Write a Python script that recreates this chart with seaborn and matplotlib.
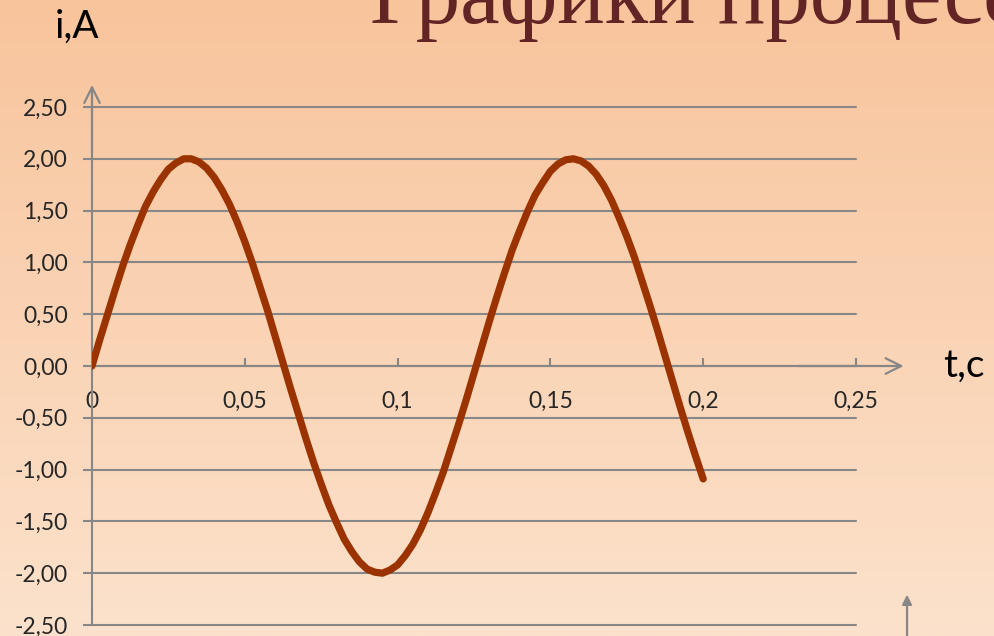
import numpy as np
import matplotlib
matplotlib.use("Agg")
import matplotlib.pyplot as plt
import seaborn as sns

# Values (t in s, i in A)
t_values = [0.0000, 0.0025, 0.0050, 0.0075, 0.0100, 0.0125, 0.0150, 0.0175,
            0.0200, 0.0225, 0.0250, 0.0275, 0.0300, 0.0325, 0.0350, 0.0375,
            0.0400, 0.0425, 0.0450, 0.0475, 0.0500, 0.0525, 0.0550, 0.0575,
            0.0600, 0.0625, 0.0650, 0.0675, 0.0700, 0.0725, 0.0750, 0.0775,
            0.0800, 0.0825, 0.0850, 0.0875, 0.0900, 0.0925, 0.0950, 0.0975,
            0.1000, 0.1025, 0.1050, 0.1075, 0.1100, 0.1125, 0.1150, 0.1175,
            0.1200, 0.1225, 0.1250, 0.1275, 0.1300, 0.1325, 0.1350, 0.1375,
            0.1400, 0.1425, 0.1450, 0.1475, 0.1500, 0.1525, 0.1550, 0.1575,
            0.1600, 0.1625, 0.1650, 0.1675, 0.1700, 0.1725, 0.1750, 0.1775,
            0.1800, 0.1825, 0.1850, 0.1875, 0.1900, 0.1925, 0.1950, 0.1975,
            0.2000]
i_values = [0.00, 0.25, 0.49, 0.73, 0.96, 1.17, 1.36, 1.54,
            1.68, 1.80, 1.90, 1.96, 2.00, 2.00, 1.97, 1.91,
            1.82, 1.70, 1.56, 1.39, 1.20, 0.99, 0.76, 0.53,
            0.28, 0.03, -0.22, -0.46, -0.70, -0.93, -1.14, -1.34,
            -1.51, -1.67, -1.79, -1.89, -1.96, -1.99, -2.00, -1.97,
            -1.92, -1.83, -1.72, -1.58, -1.41, -1.22, -1.02, -0.79,
            -0.56, -0.32, -0.07, 0.18, 0.43, 0.67, 0.90, 1.12,
            1.31, 1.49, 1.65, 1.77, 1.88, 1.95, 1.99, 2.00,
            1.98, 1.93, 1.85, 1.74, 1.60, 1.43, 1.25, 1.05,
            0.82, 0.59, 0.35, 0.10, -0.15, -0.40, -0.64, -0.87,
            -1.09]

y_ticks = [2.5, 2.0, 1.5, 1.0, 0.5, 0.0, -0.5, -1.0, -1.5, -2.0, -2.5]
y_labels = ["2,50", "2,00", "1,50", "1,00", "0,50", "0,00",
            "-0,50", "-1,00", "-1,50", "-2,00", "-2,50"]
x_ticks = [0, 0.05, 0.1, 0.15, 0.2, 0.25]
x_labels = ["0", "0,05", "0,1", "0,15", "0,2", "0,25"]

title_text = "Графики процессов"
y_name = "i,A"
x_name = "t,c"

sns.set_style("white")
plt.rcParams["font.family"] = ["Lato", "DejaVu Sans"]

grid_color = "#878787"
line_color = "#9B3300"

fig = plt.figure(figsize=(9.94, 6.36), dpi=100)

# slide background gradient
bg = fig.add_axes([0, 0, 1, 1], zorder=-10)
grad = np.linspace(0, 1, 256).reshape(-1, 1)
top = np.array([248, 196, 156]) / 255
bottom = np.array([252, 226, 204]) / 255
img = top + (bottom - top) * grad[:, :, None]
bg.imshow(img, aspect="auto", extent=[0, 1, 0, 1])
bg.axis("off")

ax = fig.add_axes([92 / 994, 11 / 636, 764 / 994, 518 / 636])
ax.patch.set_alpha(0)

sns.lineplot(x=t_values, y=i_values, ax=ax, color=line_color, linewidth=5.2,
             solid_capstyle="round", zorder=5)

ax.set_xlim(0, 0.25)
ax.set_ylim(-2.5, 2.5)
ax.set_yticks(y_ticks)
ax.set_yticklabels(y_labels)
ax.set_xticks(x_ticks)
ax.set_xticklabels(x_labels)

ax.yaxis.grid(True, color=grid_color, linewidth=1.5)
ax.xaxis.grid(False)
ax.set_axisbelow(True)
for gl in ax.get_ygridlines():
    gl.set_clip_on(False)

for side in ["top", "right"]:
    ax.spines[side].set_visible(False)
ax.spines["left"].set_color(grid_color)
ax.spines["left"].set_linewidth(1.5)
ax.spines["bottom"].set_position(("data", 0))
ax.spines["bottom"].set_color(grid_color)
ax.spines["bottom"].set_linewidth(1.5)

ax.tick_params(axis="y", direction="out", length=6.5, width=1.5, color=grid_color,
               labelsize=16.5, labelcolor="#262626", pad=11, left=True)
ax.tick_params(axis="x", direction="in", length=6, width=1.5, color=grid_color,
               labelsize=16.5, labelcolor="#262626", pad=18, bottom=True)

# axis arrows from the slide
arrow_kw = dict(arrowstyle="->", color=grid_color, lw=1.6, mutation_scale=28)
ax.annotate("", xy=(0, 2.74), xytext=(0, 2.03), arrowprops=arrow_kw,
            annotation_clip=False)
ax.annotate("", xy=(0.2665, 0), xytext=(0.230, 0), arrowprops=arrow_kw,
            annotation_clip=False)
ax.annotate("", xy=(0.2667, -2.18), xytext=(0.2667, -2.65),
            arrowprops=dict(arrowstyle="-|>", color=grid_color, lw=1.6,
                            mutation_scale=14),
            annotation_clip=False)

fig.text(55 / 994, 1 - 27 / 636, y_name, fontsize=28, color="black",
         va="center", ha="left")
fig.text(943 / 994, 1 - 366 / 636, x_name, fontsize=28, color="black",
         va="center", ha="left")
fig.text(370 / 994, 1 - 23 / 636, title_text, fontsize=64, color="#622424",
         family=["Liberation Serif", "DejaVu Serif"], va="baseline", ha="left")

fig.savefig("out.png", dpi=100)
